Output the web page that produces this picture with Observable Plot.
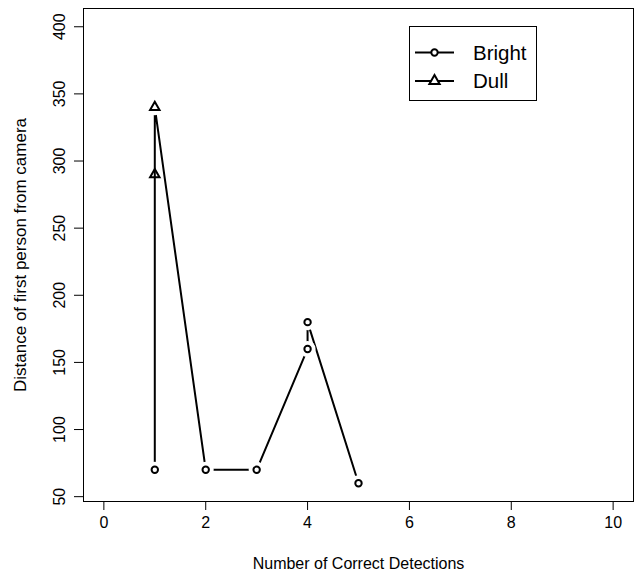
<!DOCTYPE html>
<html>
<head>
<meta charset="utf-8">
<script src="https://cdn.jsdelivr.net/npm/d3@7"></script>
<script src="https://cdn.jsdelivr.net/npm/@observablehq/plot@0.6"></script>
<style>
  html, body { margin: 0; padding: 0; background: white; }
  #wrap { position: relative; width: 638px; height: 579px; font-family: "Liberation Sans", Arial, Helvetica, sans-serif; }
  #legend { position: absolute; left: 409px; top: 26px; width: 126px; height: 73px; border: 1px solid #000; background: white; }
</style>
</head>
<body>
<div id="wrap"></div>
<script>
// Connected path (R type="b" order)
const pathX = [1, 1, 2, 3, 4, 4, 5];
const pathY = [70, 340, 70, 70, 160, 180, 60];
// Bright points (circles)
const brightX = [1, 2, 3, 4, 4, 5];
const brightY = [70, 70, 70, 160, 180, 60];
// Dull points (triangles)
const dullX = [1, 1];
const dullY = [340, 290];

const seriesNames = ["Bright", "Dull"];
const xTicks = [0, 2, 4, 6, 8, 10];
const yTicks = [50, 100, 150, 200, 250, 300, 350, 400];
const xTitle = ["Number of Correct Detections"];
const yTitle = ["Distance of first person from camera"];

const path = pathX.map((x, i) => ({x, y: pathY[i]}));
const bright = brightX.map((x, i) => ({x, y: brightY[i]}));
const dull = dullX.map((x, i) => ({x, y: dullY[i]}));

const chart = Plot.plot({
  width: 638,
  height: 579,
  marginLeft: 83,
  marginRight: 5,
  marginTop: 8,
  marginBottom: 78,
  style: {fontFamily: "'Liberation Sans', Arial, Helvetica, sans-serif", fontSize: "16px", background: "white", color: "black"},
  x: {domain: [-0.4, 10.4]},
  y: {domain: [46.4, 413.6]},
  marks: [
    Plot.frame({stroke: "black", strokeWidth: 1}),
    Plot.axisX({ticks: xTicks, tickSize: 9, tickPadding: 6, fontSize: 16, label: null, stroke: "black"}),
    Plot.axisY({ticks: yTicks, tickSize: 9, tickFormat: () => "", label: null, stroke: "black"}),
    Plot.text(yTicks, {y: d => d, text: d => String(d), frameAnchor: "left", dx: -24, rotate: -90, textAnchor: "middle", lineAnchor: "middle", fontSize: 16, fill: "black"}),
    Plot.text(xTitle, {text: d => d, frameAnchor: "bottom", dy: 62, textAnchor: "middle", lineAnchor: "middle", fontSize: 16, fill: "black"}),
    Plot.text(yTitle, {text: d => d, frameAnchor: "left", dx: -63, rotate: -90, textAnchor: "middle", lineAnchor: "middle", fontSize: 17, fill: "black"}),
    Plot.line(path, {x: "x", y: "y", stroke: "black", strokeWidth: 2}),
    Plot.dot(path, {x: "x", y: "y", r: 8, fill: "white", stroke: null}),
    Plot.dot(bright, {x: "x", y: "y", r: 3.2, fill: "white", stroke: "black", strokeWidth: 2}),
    Plot.dot(dull, {x: "x", y: "y", symbol: "triangle", r: 3.5, fill: "none", stroke: "black", strokeWidth: 2})
  ]
});

const wrap = document.getElementById("wrap");
wrap.appendChild(chart);

// Legend
const legend = document.createElement("div");
legend.id = "legend";
const ns = "http://www.w3.org/2000/svg";
const lsvg = document.createElementNS(ns, "svg");
lsvg.setAttribute("width", 126);
lsvg.setAttribute("height", 73);
const rows = [25.5, 54];
seriesNames.forEach((name, i) => {
  const y = rows[i];
  const line = document.createElementNS(ns, "line");
  line.setAttribute("x1", 5); line.setAttribute("x2", 44);
  line.setAttribute("y1", y); line.setAttribute("y2", y);
  line.setAttribute("stroke", "black"); line.setAttribute("stroke-width", 2);
  lsvg.appendChild(line);
  const sym = document.createElementNS(ns, "path");
  const size = i === 0 ? Math.PI * 3.2 * 3.2 : Math.PI * 3.8 * 3.8;
  sym.setAttribute("d", d3.symbol(i === 0 ? d3.symbolCircle : d3.symbolTriangle, size)());
  sym.setAttribute("transform", `translate(24.5,${y})`);
  sym.setAttribute("fill", "white");
  sym.setAttribute("stroke", "black");
  sym.setAttribute("stroke-width", 2);
  lsvg.appendChild(sym);
  const t = document.createElementNS(ns, "text");
  t.setAttribute("x", 63);
  t.setAttribute("y", y);
  t.setAttribute("dy", "0.35em");
  t.setAttribute("font-size", "20.5px");
  t.setAttribute("font-family", "'Liberation Sans', Arial, Helvetica, sans-serif");
  t.textContent = name;
  lsvg.appendChild(t);
});
legend.appendChild(lsvg);
wrap.appendChild(legend);
</script>
</body>
</html>
